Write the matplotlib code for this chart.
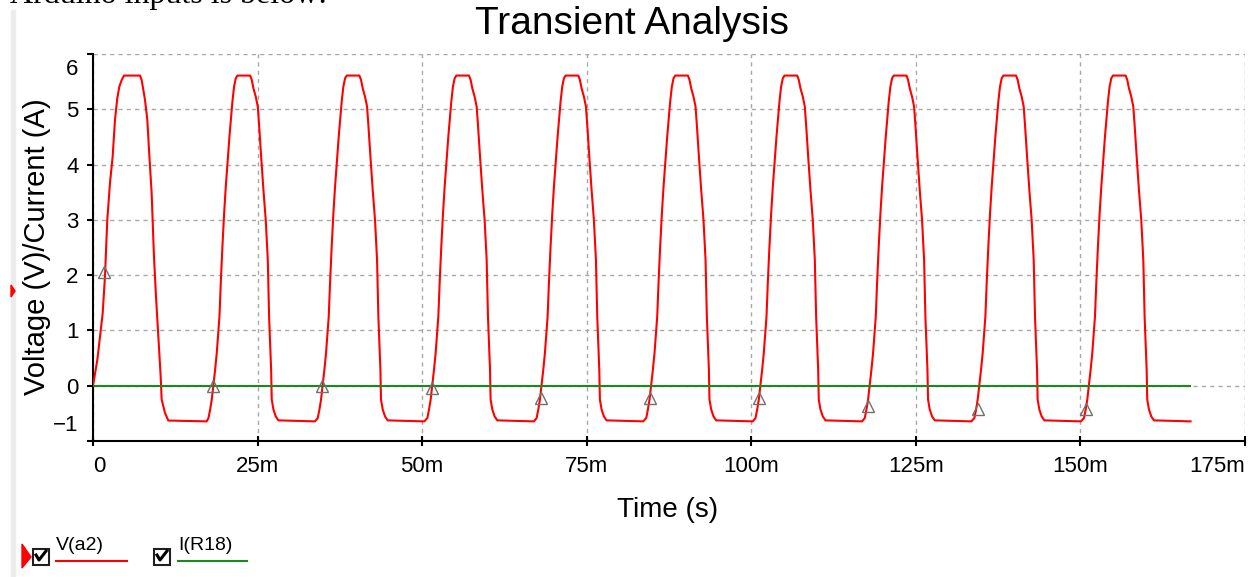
import numpy as np
import matplotlib.pyplot as plt
from matplotlib.patches import Rectangle, Polygon
from matplotlib.lines import Line2D
from matplotlib.transforms import ScaledTranslation

W, H = 1254, 577

# first cycle of V(a2), time in ms, volts
cyc1_t = [0, 0.66, 1.06, 1.47, 1.82, 2.17, 2.58, 2.99, 3.34, 3.69, 4.0, 4.36, 4.71,
          7.14, 7.39, 7.64, 7.9, 8.25, 8.55, 8.91, 9.26, 9.57, 9.92, 10.28, 10.43,
          10.93, 11.44, 17.26]
cyc1_v = [0, 0.47, 0.89, 1.31, 1.98, 3.0, 3.67, 4.15, 4.81, 5.2, 5.41, 5.53, 5.61,
          5.61, 5.53, 5.35, 5.17, 4.81, 4.18, 3.48, 2.34, 1.61, 0.89, 0.17, -0.25,
          -0.49, -0.63, -0.645]

# one later cycle, time relative to its rising zero crossing (ms)
cyc_rel_t = [-0.76, -0.51, -0.26, 0.0, 0.25, 0.5, 0.91, 1.11, 1.36, 1.62, 1.87, 2.17,
             2.43, 2.68, 2.88, 3.13, 3.39, 3.64, 5.57, 5.82, 6.07, 6.42, 6.73, 6.93,
             7.24, 7.59, 7.94, 8.25, 8.45, 8.6, 8.76, 8.85, 9.11, 9.46, 9.87, 15.43]
cyc_v = [-0.585, -0.434, -0.253, 0.018, 0.289, 0.59, 1.25, 1.86, 2.52, 3.12, 3.60,
         4.09, 4.51, 4.87, 5.14, 5.41, 5.56, 5.61, 5.61, 5.53, 5.38, 5.23, 5.05, 4.72,
         4.15, 3.54, 3.00, 2.28, 1.25, 0.77, 0.29, -0.25, -0.43, -0.555, -0.627, -0.645]

# rising zero crossings of cycles 2..10 (ms)
crossings = [18.3, 34.9, 51.55, 68.15, 84.8, 101.4, 118.0, 134.65, 151.3]

# I(R18)
i_t = [0, 166.6]
i_v = [0, 0]

# trace markers (ms, V)
mark_t = [1.67, 18.2, 34.8, 51.5, 68.0, 84.6, 101.1, 117.7, 134.4, 150.9]
mark_v = [2.06, 0.0, 0.0, -0.05, -0.22, -0.22, -0.22, -0.36, -0.42, -0.42]

xticks = [0, 25, 50, 75, 100, 125, 150, 175]
xlabels = ['0', '25m', '50m', '75m', '100m', '125m', '150m', '175m']
yticks = [-1, 0, 1, 2, 3, 4, 5, 6]

# assemble V(a2) trace
v_t = list(cyc1_t)
v_v = list(cyc1_v)
for c in crossings:
    v_t += [c + r for r in cyc_rel_t]
    v_v += cyc_v
v_t = np.array(v_t) / 1000.0

plt.rcParams['font.family'] = ['Liberation Sans', 'DejaVu Sans']

fig = plt.figure(figsize=(W / 100, H / 100), dpi=100)
fig.patch.set_facecolor('white')


def px(x, y):
    return x / W, 1 - y / H


ax = fig.add_axes([93 / W, 1 - 441 / H, (1245 - 93) / W, (441 - 54) / H])
ax.plot(v_t, v_v, color='#ff0000', lw=1.5, zorder=3)
ax.plot(np.array(i_t) / 1000.0, i_v, color='#1a8a1a', lw=1.5, zorder=3)
ax.plot(np.array(mark_t) / 1000.0, mark_v, ls='none', marker='^', ms=8,
        mfc='none', mec='#707070', mew=1.0, zorder=4)

ax.set_xlim(0, 0.175)
ax.set_ylim(-1, 6)
ax.set_xticks([x / 1000.0 for x in xticks])
ax.set_xticklabels(xlabels)
ax.set_yticks(yticks)
ax.grid(True, ls=(0, (3, 3)), color='#a8a8a8', lw=1.0)
for s in ['top', 'right']:
    ax.spines[s].set_visible(False)
for s in ['left', 'bottom']:
    ax.spines[s].set_linewidth(1.5)
ax.tick_params(axis='y', direction='out', length=4.5, width=1.5, pad=6, labelsize=16)
ax.tick_params(axis='x', direction='inout', length=7, width=1.5, pad=7, labelsize=16)
xl = ax.get_xticklabels()
xl[0].set_ha('left')
xl[-1].set_ha('right')
yl = ax.get_yticklabels()
yl[0].set_va('bottom')
yl[0].set_transform(yl[0].get_transform() +
                    ScaledTranslation(0, 0.05, fig.dpi_scale_trans))
yl[-1].set_va('top')
yl[-1].set_transform(yl[-1].get_transform() +
                     ScaledTranslation(0, -0.05, fig.dpi_scale_trans))

fig.text(*px(632, 24), 'Transient Analysis', fontsize=28, ha='center', va='center')
fig.text(*px(37, 247), 'Voltage (V)/Current (A)', fontsize=21, rotation=90,
         ha='center', va='center')
fig.text(*px(668, 510), 'Time (s)', fontsize=20, ha='center', va='center')

# clipped line of the page text above the chart
fig.text(*px(10, 3), 'Arduino inputs is below:', fontsize=23,
         family='Liberation Serif', ha='left', va='baseline')

# left page band and cursor marks
fig.patches.append(Rectangle(px(11, 577), 4 / W, 567 / H, transform=fig.transFigure,
                             color='#ececec', zorder=0))
fig.patches.append(Polygon([px(11, 285), px(15, 291), px(11, 297)], closed=True,
                           transform=fig.transFigure, color='red'))
fig.patches.append(Polygon([px(22, 544), px(31, 557), px(22, 568)], closed=True,
                           transform=fig.transFigure, color='red'))

# legend with check boxes
for bx, name, col, x0, x1 in [(41, 'V(a2)', '#ff0000', 56, 127),
                              (162, 'I(R18)', '#1a8a1a', 178, 247)]:
    fig.patches.append(Rectangle(px(bx - 8, 565), 16 / W, 16 / H,
                                 transform=fig.transFigure, fill=False,
                                 ec='#202020', lw=1.5))
    cx = [bx - 5, bx - 2, bx + 5]
    cy = [555, 560, 551]
    fig.lines.append(Line2D([c / W for c in cx], [1 - c / H for c in cy],
                            transform=fig.transFigure, color='black', lw=2.2))
    fig.text(*px(x0, 545), name, fontsize=14, ha='left', va='center')
    fig.lines.append(Line2D([x0 / W, x1 / W], [1 - 561 / H, 1 - 561 / H],
                            transform=fig.transFigure, color=col, lw=1.5))

fig.savefig('out.png', dpi=100)
